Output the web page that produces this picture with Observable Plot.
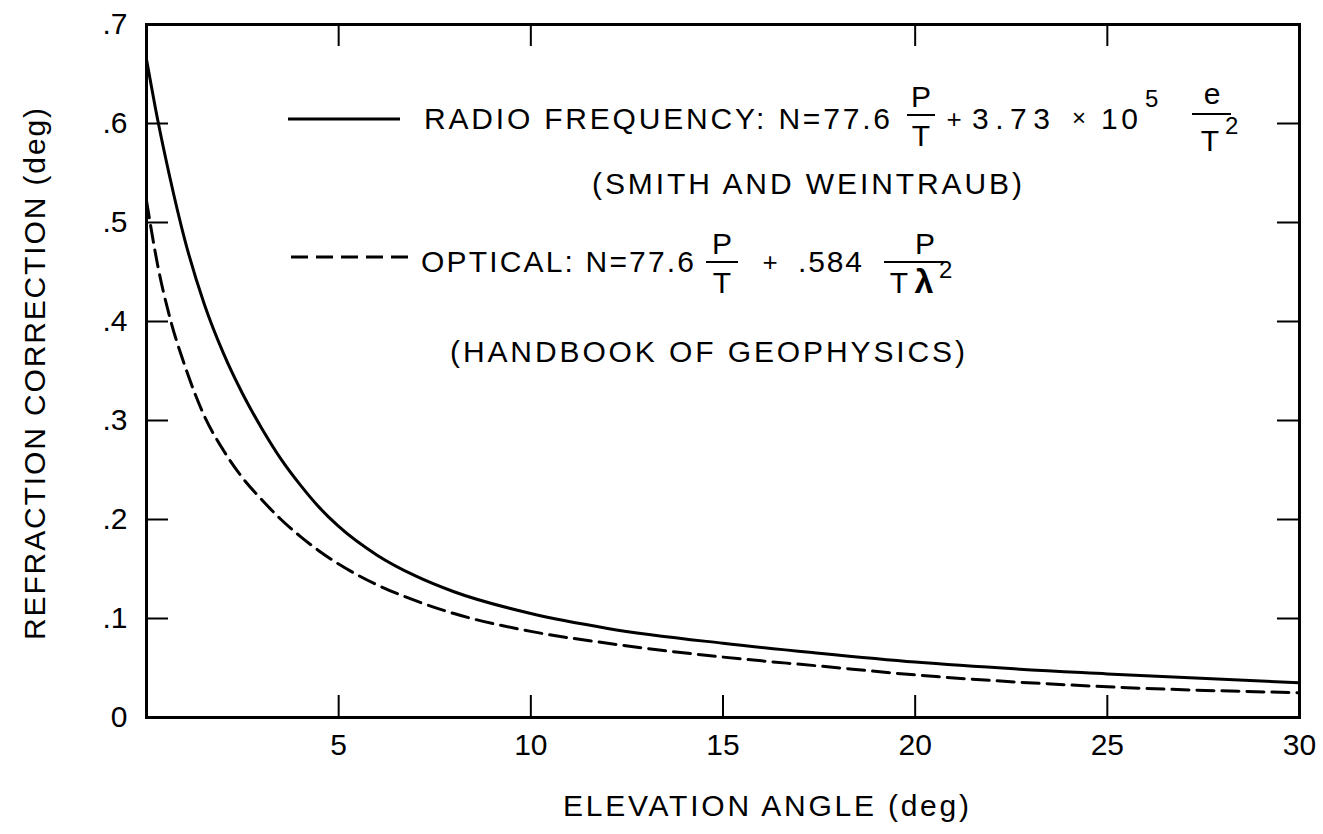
<!DOCTYPE html>
<html>
<head>
<meta charset="utf-8">
<script src="https://cdn.jsdelivr.net/npm/d3@7"></script>
<script src="https://cdn.jsdelivr.net/npm/@observablehq/plot@0.6"></script>
<style>
  html, body { margin: 0; padding: 0; background: #fff; }
  #chart { width: 1323px; height: 834px; }
</style>
</head>
<body>
<div id="chart"></div>
<script>
// ---- data ----
const elevation = [0, 0.3, 0.6, 1, 1.5, 2, 2.5, 3, 3.5, 4, 4.5, 5, 6, 7, 8, 10, 12, 15, 17.5, 20, 25, 30];
const radioCorrection = [0.665, 0.602, 0.547, 0.482, 0.418, 0.368, 0.327, 0.292, 0.261, 0.235, 0.212, 0.193, 0.164, 0.143, 0.127, 0.105, 0.09, 0.075, 0.065, 0.056, 0.044, 0.035];
const opticalCorrection = [0.522, 0.455, 0.405, 0.355, 0.305, 0.27, 0.242, 0.22, 0.2, 0.183, 0.168, 0.155, 0.134, 0.118, 0.105, 0.087, 0.075, 0.061, 0.052, 0.043, 0.031, 0.025];
const xTickLabels = [5, 10, 15, 20, 25, 30];
const yTickLabels = [0, 0.1, 0.2, 0.3, 0.4, 0.5, 0.6, 0.7];
const bottomTicks = [5, 10, 15, 20, 25];
const topTicks = [5, 10, 20, 25];
const sideTicks = [0.1, 0.2, 0.3, 0.4, 0.5, 0.6];
const xTitle = "ELEVATION ANGLE (deg)";
const yTitle = "REFRACTION CORRECTION (deg)";

const radioRows = elevation.map((e, i) => ({x: e, y: radioCorrection[i]}));
const opticalRows = elevation.map((e, i) => ({x: e, y: opticalCorrection[i]}));

// ---- layout ----
const FONT = "'Liberation Sans', Arial, Helvetica, sans-serif";
const W = 1323, H = 834;
const mL = 146, mR = 24, mT = 24, mB = 117;
const innerW = W - mL - mR, innerH = H - mT - mB;
const TICK = 22;

const plot = Plot.plot({
  width: W, height: H,
  marginLeft: mL, marginRight: mR, marginTop: mT, marginBottom: mB,
  style: {fontFamily: FONT, fontSize: "30px", color: "#000", background: "#fff"},
  x: {domain: [0, 30]},
  y: {domain: [0, 0.7]},
  marks: [
    Plot.axisX({ticks: xTickLabels, tickSize: 0, tickPadding: 16, label: null, fontSize: 30,
      tickFormat: d => String(d)}),
    Plot.axisY({ticks: yTickLabels, tickSize: 0, tickPadding: 19, label: null, fontSize: 30,
      tickFormat: d => d === 0 ? "0" : d3.format(".1f")(d).slice(1)}),
    Plot.tickX(bottomTicks, {x: d => d, insetTop: innerH - TICK, stroke: "#000", strokeWidth: 2}),
    Plot.tickX(topTicks, {x: d => d, insetBottom: innerH - TICK, stroke: "#000", strokeWidth: 2}),
    Plot.tickY(sideTicks, {y: d => d, insetRight: innerW - TICK, stroke: "#000", strokeWidth: 2}),
    Plot.tickY(sideTicks, {y: d => d, insetLeft: innerW - TICK, stroke: "#000", strokeWidth: 2}),
    Plot.line(radioRows, {x: "x", y: "y", curve: "monotone-x", stroke: "#000", strokeWidth: 3}),
    Plot.line(opticalRows, {x: "x", y: "y", curve: "monotone-x", stroke: "#000", strokeWidth: 3,
      strokeDasharray: "17,8"}),
    Plot.frame({stroke: "#000", strokeWidth: 3})
  ]
});

document.getElementById("chart").appendChild(plot);

// ---- annotations: axis titles and in-plot legend ----
const svg = d3.select(plot);
const g = svg.append("g")
  .attr("font-family", FONT).attr("font-size", 30).attr("fill", "#000")
  .attr("text-anchor", "start");

function txt(str, x, y, o = {}) {
  const t = g.append("text").attr("x", x).attr("y", y).text(str)
    .attr("text-anchor", o.anchor || "start");
  if (o.len) t.attr("textLength", o.len).attr("lengthAdjust", "spacing");
  if (o.size) t.attr("font-size", o.size);
  if (o.weight) t.attr("font-weight", o.weight);
  if (o.transform) t.attr("transform", o.transform);
  return t;
}
function bar(x1, x2, y, w = 2) {
  g.append("line").attr("x1", x1).attr("x2", x2).attr("y1", y).attr("y2", y)
    .attr("stroke", "#000").attr("stroke-width", w);
}

// axis titles
txt(xTitle, 766, 816, {anchor: "middle", len: 406});
txt(yTitle, 0, 0, {anchor: "middle", len: 532, transform: "translate(45,374) rotate(-90)"});

// legend: radio frequency
g.append("line").attr("x1", 288).attr("x2", 400).attr("y1", 119).attr("y2", 119)
  .attr("stroke", "#000").attr("stroke-width", 3);
txt("RADIO FREQUENCY: N=77.6", 424, 129, {len: 466});
bar(907, 935, 115);
txt("P", 921, 107, {anchor: "middle"});
txt("T", 921, 146, {anchor: "middle"});
txt("+", 954, 128, {anchor: "middle", size: 26});
txt("3.73", 972, 129, {len: 78});
txt("×", 1079, 126, {anchor: "middle", size: 24});
txt("10", 1101, 129, {len: 37});
txt("5", 1145, 107, {size: 24});
bar(1192, 1231, 114);
txt("e", 1212, 104, {anchor: "middle"});
txt("T", 1210, 151, {anchor: "middle"});
txt("2", 1225, 134, {size: 24});
txt("(SMITH AND WEINTRAUB)", 592, 194, {len: 430});

// legend: optical
g.append("line").attr("x1", 291).attr("x2", 413).attr("y1", 257).attr("y2", 257)
  .attr("stroke", "#000").attr("stroke-width", 3).attr("stroke-dasharray", "17,8");
txt("OPTICAL: N=77.6", 421, 272, {len: 273});
bar(706, 738, 262);
txt("P", 722, 254, {anchor: "middle"});
txt("T", 722, 293, {anchor: "middle"});
txt("+", 770, 271, {anchor: "middle", size: 26});
txt(".584", 798, 272, {len: 64});
bar(884, 944, 262);
txt("P", 925, 254, {anchor: "middle"});
txt("T", 899, 293, {anchor: "middle"});
txt("λ", 924, 293, {anchor: "middle", weight: "bold", size: 34});
txt("2", 939, 278, {size: 24});
txt("(HANDBOOK OF GEOPHYSICS)", 450, 362, {len: 515});
</script>
</body>
</html>
